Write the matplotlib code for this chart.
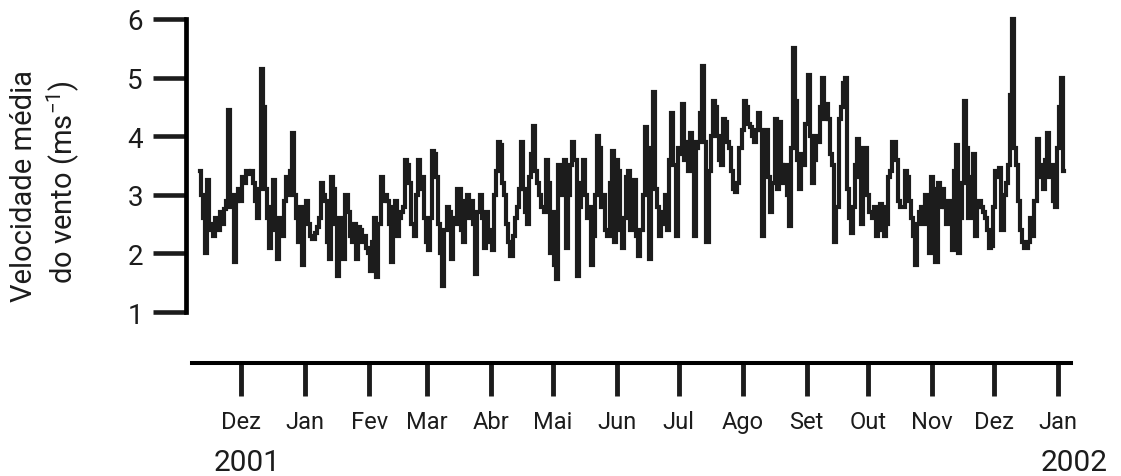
import numpy as np, pandas as pd
import matplotlib; matplotlib.use("Agg"); import matplotlib.pyplot as plt
import matplotlib.dates as mdates

plt.rcParams['font.family'] = ['Roboto', 'DejaVu Sans']
plt.rcParams['mathtext.default'] = 'regular'

# daily mean wind speed (m/s); series starts 11 Nov 2000
START = "2000-11-11"
nov00 = [3.4, 3.0, 2.6, 2.0, 3.25, 2.4, 2.5, 2.3, 2.6, 2.4, 2.7, 2.5, 2.75, 2.9, 4.45, 2.8, 3.0, 1.85, 2.9, 3.1]
dec00 = [2.9, 3.3, 3.2, 3.4, 3.35, 3.4, 3.2, 2.9, 2.6, 3.1, 5.15, 4.5, 3.1, 2.6, 2.1, 2.8, 3.25, 2.4, 1.9, 2.6,
         2.3, 2.9, 3.3, 3.0, 3.4, 4.05, 3.0, 2.6, 2.2, 2.8, 1.8]
jan01 = [2.7, 2.9, 2.5, 2.3, 2.25, 2.35, 2.45, 2.6, 3.2, 3.0, 2.9, 2.2, 1.9, 3.3, 3.1, 2.5, 1.62, 2.6,
         2.0, 1.9, 3.0, 2.7, 2.3, 2.2, 2.5, 1.9, 2.45, 2.4, 2.2, 2.3, 2.1]
feb01 = [2.0, 1.7, 2.2, 2.6, 1.6, 2.5, 3.3, 2.9, 3.0, 2.9, 2.5, 1.85, 2.8, 2.9, 2.3, 2.6, 2.7, 2.8, 3.6, 3.5,
         3.2, 2.5, 2.3, 3.0, 3.6, 3.1, 3.3, 2.6]
mar01 = [2.2, 2.05, 2.6, 3.75, 3.7, 3.3, 2.5, 2.0, 1.45, 2.4, 2.8, 2.7, 1.9, 2.6, 2.5, 3.1, 3.1, 2.4, 2.2, 2.9,
         3.0, 2.6, 2.9, 2.5, 1.65, 2.7, 3.0, 2.6, 2.1, 2.7, 2.4]
apr01 = [2.2, 2.05, 3.0, 3.4, 3.9, 3.85, 3.2, 3.0, 2.5, 2.2, 1.95, 2.3, 2.6, 2.8, 3.1, 3.9, 3.1, 2.7, 2.5, 3.3,
         3.7, 4.18, 3.4, 3.2, 3.0, 2.8, 2.7, 3.6, 3.2, 2.0]
may01 = [2.7, 1.8, 1.56, 3.5, 3.0, 3.4, 3.6, 2.1, 3.0, 3.5, 3.9, 3.6, 1.62, 2.8, 3.2, 3.6, 3.0, 2.6, 2.8, 1.8,
         2.3, 3.0, 4.0, 3.8, 2.8, 3.0, 2.4, 2.3, 3.2, 3.75, 2.2]
jun01 = [3.6, 3.4, 2.4, 2.1, 2.6, 3.3, 3.4, 2.4, 2.7, 3.25, 2.3, 1.96, 2.4, 3.0, 4.15, 3.2, 1.9, 3.8, 4.75, 3.1,
         2.8, 2.3, 2.5, 2.7, 3.0, 2.4, 3.6, 4.4, 3.5, 2.3]
jul01 = [3.8, 3.7, 4.55, 3.6, 3.9, 3.4, 4.05, 3.9, 2.3, 3.8, 3.9, 4.4, 5.2, 3.9, 2.2, 3.4, 4.0, 4.6, 4.5, 4.0,
         3.6, 3.5, 4.3, 4.25, 3.9, 3.8, 3.4, 3.1, 3.05, 3.2, 3.8]
aug01 = [4.1, 4.6, 4.5, 4.2, 4.15, 4.0, 3.9, 4.1, 4.4, 4.1, 2.3, 3.9, 4.1, 3.3, 2.7, 3.2, 4.3, 3.1, 4.25, 3.5,
         3.2, 3.5, 3.0, 2.47, 3.8, 5.5, 4.6, 3.6, 3.1, 3.7, 3.5]
sep01 = [4.2, 5.05, 4.0, 3.2, 3.6, 4.0, 3.9, 4.5, 5.0, 4.3, 4.55, 4.3, 3.7, 3.5, 2.2, 2.8, 4.3, 4.5, 4.9, 5.0,
         3.1, 2.6, 2.35, 2.8, 3.5, 3.95, 3.3, 2.5, 3.8, 3.8]
oct01 = [3.0, 2.7, 2.6, 2.8, 2.3, 2.4, 2.85, 2.8, 2.3, 2.5, 3.3, 3.4, 3.9, 3.9, 3.6, 2.9, 2.8, 2.8, 3.4, 3.3,
         2.9, 2.6, 2.3, 1.8, 2.5, 2.7, 2.8, 2.5, 3.0, 2.7, 2.0]
nov01 = [3.3, 3.1, 1.85, 3.2, 2.8, 3.1, 2.8, 2.5, 2.9, 2.6, 2.05, 3.4, 3.85, 2.0, 2.6, 3.2, 4.6, 3.8, 2.6, 3.3,
         3.7, 2.3, 2.8, 2.9, 2.8, 2.7, 2.6, 2.4, 2.1, 2.13]
dec01 = [2.8, 3.4, 3.3, 3.45, 2.4, 3.0, 3.2, 3.5, 4.7, 6.0, 3.8, 3.5, 2.9, 2.4, 2.2, 2.1, 2.1, 2.2, 2.6, 2.3,
         2.9, 3.95, 3.5, 3.3, 3.1, 3.6, 4.05, 3.3, 3.5, 2.9, 2.8]
jan02 = [3.8, 4.5, 5.0, 3.4]

months = ["Dez", "Jan", "Fev", "Mar", "Abr", "Mai", "Jun", "Jul", "Ago", "Set", "Out", "Nov", "Dez", "Jan"]
yticks = [1, 2, 3, 4, 5, 6]

wind = np.concatenate([nov00, dec00, jan01, feb01, mar01, apr01, may01, jun01,
                       jul01, aug01, sep01, oct01, nov01, dec01, jan02])
days = pd.date_range(START, periods=len(wind), freq="D")
tick_days = pd.date_range("2000-12-01", "2002-01-01", freq="MS")

INK = "#1c1c1c"
W, H = 1121, 477
fig = plt.figure(figsize=(W/100, H/100), dpi=100)
ax = fig.add_axes([186/W, 113/H, 885/W, 349/H])
ax.plot(days, wind, color=INK, lw=3.0, drawstyle="steps-mid", solid_joinstyle="miter")

t0 = pd.Timestamp(START)
x0, x1 = t0 - pd.Timedelta(days=6.8), t0 + pd.Timedelta(days=422.2)
ax.set_xlim(x0, x1)
ax.set_ylim(0.13, 6.085)

for s in ("top", "right"):
    ax.spines[s].set_visible(False)
ax.spines["left"].set_bounds(1, 6)
ax.spines["left"].set_linewidth(3.4)
ax.spines["bottom"].set_linewidth(2.9)
ax.spines["bottom"].set_bounds(mdates.date2num(t0 - pd.Timedelta(days=3.9)), mdates.date2num(x1))

ax.set_yticks(yticks)
ax.set_yticklabels([str(v) for v in yticks])
ax.tick_params(axis="y", direction="out", length=24, width=3.3, pad=7, labelsize=20, colors=INK)
ax.set_xticks(tick_days)
ax.set_xticklabels(months)
ax.tick_params(axis="x", direction="out", length=24, width=3.5, pad=10, labelsize=17, colors=INK)

fig.text(24/W, 1-186/H, "Velocidade média", rotation=90, ha="center", va="center", fontsize=21, color=INK)
fig.text(63/W, 1-182/H, r"do vento (ms$^{-1}$)", rotation=90, ha="center", va="center",
         fontsize=21, color=INK)
fig.text(214/W, 1-471/H, "2001", ha="left", va="baseline", fontsize=21.5, color=INK)
fig.text(1108/W, 1-471/H, "2002", ha="right", va="baseline", fontsize=21.5, color=INK)

fig.savefig("out.png", dpi=100)
